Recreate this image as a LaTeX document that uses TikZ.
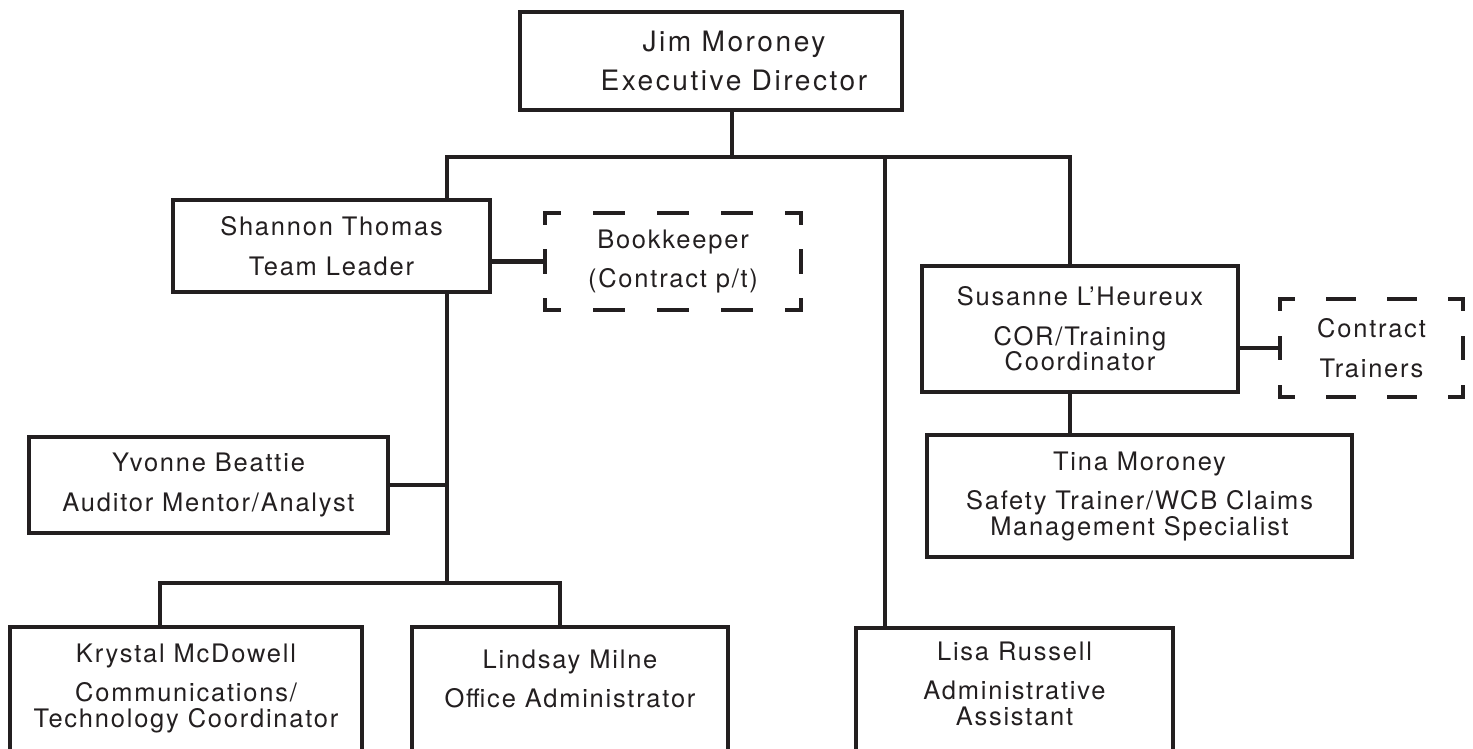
\documentclass[tikz,border=0pt]{standalone}
\usepackage{fontspec}
\setmainfont{TeX Gyre Heros}[LetterSpace=7]
\definecolor{ink}{HTML}{231F20}

\def\px{0.02}

\tikzset{
  box/.style={draw=ink, line width=2.8pt, align=center, inner sep=0pt, outer sep=0pt},
  dashbox/.style={align=center, inner sep=0pt, outer sep=0pt},
  link/.style={draw=ink, line width=2.8pt},
  bigtext/.style={font=\fontsize{16}{16}\selectfont\addfontfeatures{LetterSpace=9}},
}

% one dashed side, half dashes at both corners
\newcommand\dashside[3]{%
  \pgfmathsetlengthmacro\don{#3*\px*1cm/2-0.1cm}%
  \pgfmathsetlengthmacro\doff{#3*\px*1cm/2+0.1cm}%
  \pgfmathsetlengthmacro\dph{#3*\px*1cm/4-0.05cm}%
  \draw[link, line cap=rect, dash pattern=on \don off \doff, dash phase=\dph] (#1) -- (#2);
}

\begin{document}
\begin{tikzpicture}[x=\px cm, y=-\px cm, text=ink, font=\fontsize{14.5}{14.5}\selectfont]

  \useasboundingbox (0,0) rectangle (1473,749);
  \clip (0,0) rectangle (1473,749);

  %top
  \node[box, bigtext, minimum width=382*\px cm, minimum height=98*\px cm] (jim) at (711,61)
    {\hspace*{0.92cm}Jim Moroney\\[6.7pt]\hspace*{0.92cm}Executive Director};

  %left branch
  \node[box, minimum width=317*\px cm, minimum height=92*\px cm] (shannon) at (331.5,246) {Shannon Thomas\\[8pt]Team Leader};
  \node[dashbox, minimum width=256*\px cm, minimum height=97*\px cm] (book) at (673,261.5) {Bookkeeper\\[8pt](Contract p/t)};
  \node[box, minimum width=359*\px cm, minimum height=96*\px cm] (yvonne) at (208.5,485) {Yvonne Beattie\\[8pt]Auditor Mentor/Analyst};

  %right branch
  \node[box, minimum width=316*\px cm, minimum height=126*\px cm] (susanne) at (1080,329) {Susanne L'Heureux\\[8pt]COR/Training\\Coordinator};
  \node[dashbox, minimum width=183*\px cm, minimum height=98*\px cm] (trainers) at (1371.5,348) {Contract\\[8pt]Trainers};
  \node[box, minimum width=425*\px cm, minimum height=122*\px cm] (tina) at (1139.5,496) {Tina Moroney\\[8pt]Safety Trainer/WCB Claims\\Management Specialist};

  %bottom row, cut by the page
  \node[box, anchor=north, minimum width=352*\px cm, inner ysep=16.5*\px cm, text depth=5cm] (krystal) at (186,627) {Krystal McDowell\\[8pt]Communications/\\Technology Coordinator};
  \node[box, anchor=north, minimum width=316*\px cm, inner ysep=22.5*\px cm, text depth=5cm] (lindsay) at (570,627) {Lindsay Milne\\[8pt]Office Administrator};
  \node[box, anchor=north, minimum width=317*\px cm, inner ysep=13.5*\px cm, text depth=5cm] (lisa) at (1014.5,628) {Lisa Russell\\[8pt]Administrative\\Assistant};

  %branch points
  \coordinate (topj) at (732,157);
  \coordinate (topl) at (447,157);
  \coordinate (topm) at (885,157);
  \coordinate (topr) at (1070,157);
  \coordinate (trunk) at (447,583);
  \coordinate (botl) at (160,583);
  \coordinate (botr) at (560,583);

  %connectors
  \draw[link] (jim.south -| topj) -- (topj);
  \draw[link] (shannon.north -| topl) -- (topl) -- (topr) -- (susanne.north -| topr);
  \draw[link] (topm) -- (lisa.north -| topm);
  \draw[link] (susanne.south -| topr) -- (tina.north -| topr);
  \draw[link] (shannon.south -| topl) -- (trunk);
  \draw[link] (yvonne.east) -- (yvonne.east -| trunk);
  \draw[link] (krystal.north -| botl) -- (botl) -- (botr) -- (lindsay.north -| botr);
  \draw[link] (book.west -| shannon.east) -- (book.west);
  \draw[link] (trainers.west -| susanne.east) -- (trainers.west);

  %dashed boxes
  \foreach \n/\p/\q in {book/64/48.5, trainers/61/49}{
    \dashside{\n.north west}{\n.north east}{\p}
    \dashside{\n.south west}{\n.south east}{\p}
    \dashside{\n.north west}{\n.south west}{\q}
    \dashside{\n.north east}{\n.south east}{\q}
  }

\end{tikzpicture}
\end{document}
